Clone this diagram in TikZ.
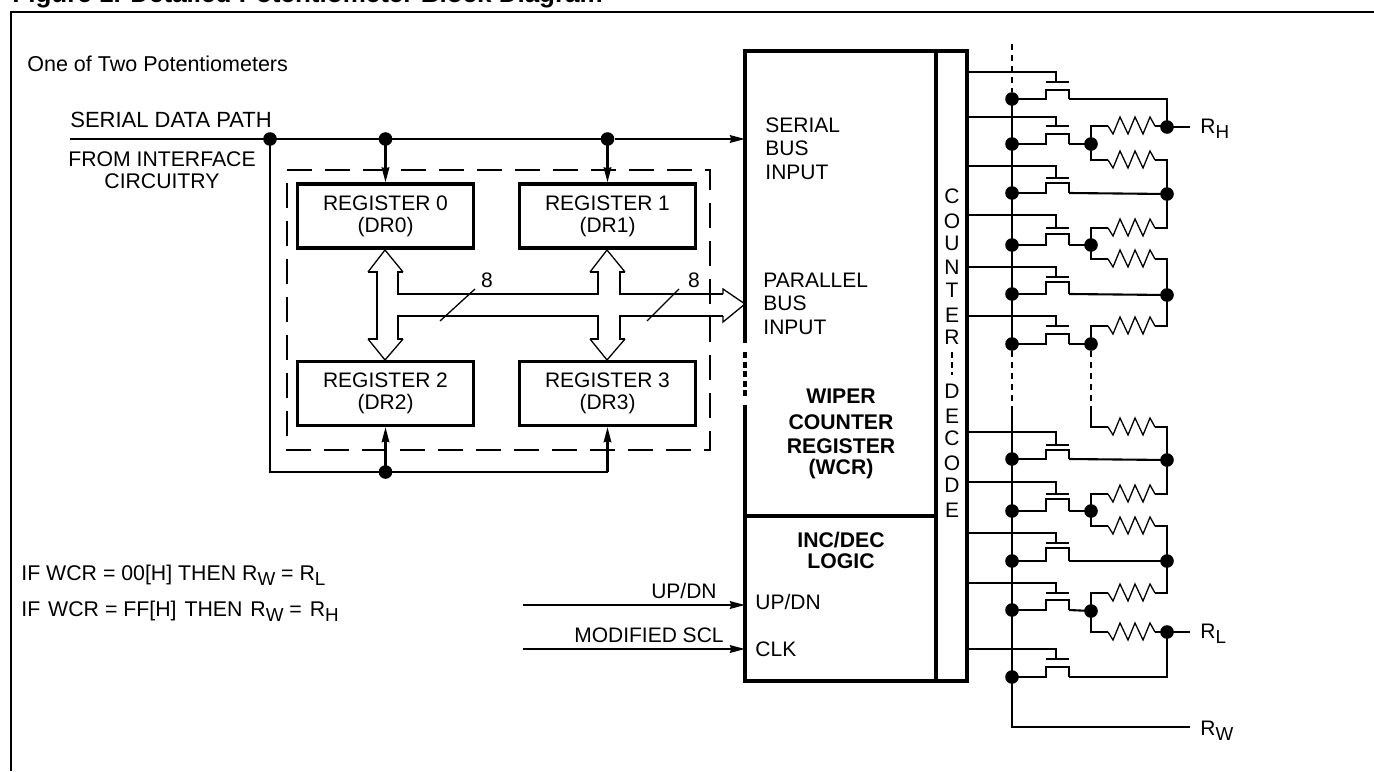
\documentclass[tikz,border=0pt]{standalone}
\usepackage{fontspec}
\setmainfont{Liberation Sans}
\usetikzlibrary{arrows.meta}
\tikzset{
  wire/.style={line width=1.05pt,line join=miter},
  heavy/.style={line width=1.7pt},
  thinline/.style={line width=0.65pt},
  dotnode/.style={circle,fill=black,inner sep=0pt,minimum size=6.8pt},
  regbox/.style={draw,line width=1.7pt,minimum width=88pt,minimum height=32pt,inner sep=0pt,align=center,font=\fontsize{10.5}{11}\selectfont},
  txt/.style={inner sep=0pt,anchor=base west,font=\fontsize{10.5}{11}\selectfont},
  txtc/.style={txt,anchor=base},
  bold/.style={txt,anchor=base,font=\fontsize{10.6}{11}\selectfont\bfseries},
  iftxt/.style={txt,font=\fontsize{10.65}{11}\selectfont},
  regarrow/.style={wire,-{Stealth[length=7.5pt,width=3.8pt,inset=0.6pt]}}
}
\newcommand{\zig}[1]{\draw[thinline] (1108,#1) -- (1113,#1+8) -- (1120,#1-9) -- (1128,#1+8)
  -- (1135,#1-9) -- (1143,#1+8) -- (1150,#1-9) -- (1155,#1);}
\newcommand{\rsub}[1]{R\raisebox{-2.6pt}{\fontsize{9.4}{9}\selectfont #1}}

\begin{document}
\begin{tikzpicture}[x=0.5pt,y=-0.5pt]
  \useasboundingbox (0,0) rectangle (1374,771);
  \node[txt,font=\fontsize{13}{13}\selectfont\bfseries] (title) at (12,3) {Figure 1. Detailed Potentiometer Block Diagram};
  \draw[wire] (1374,12) -- (11,12) -- (11,771);

  % left side texts
  \node[txt,font=\fontsize{10.75}{11}\selectfont] (onetwo) at (27,71) {One of Two Potentiometers};
  \node[txt,font=\fontsize{11}{11}\selectfont] (serialtxt) at (70,127) {SERIAL DATA PATH};
  \node[txtc,font=\fontsize{10.6}{11}\selectfont] (fromtxt) at (162,166) {FROM INTERFACE};
  \node[txtc,font=\fontsize{10.6}{11}\selectfont] (circtxt) at (162,188) {CIRCUITRY};
  \node[iftxt] (iflow) at (21,580) {IF WCR = 00[H] THEN \rsub{W} = \rsub{L}};
  \node[iftxt] (ifhigh) at (21,616) {IF\ \hspace{1pt}WCR = FF[H]\ \hspace{1pt}THEN\ \hspace{1pt}\rsub{W} =\ \hspace{1pt}\rsub{H}};

  % registers
  \node[regbox] (reg0) at (385.5,216) {REGISTER 0\\(DR0)};
  \node[regbox] (reg1) at (607.5,216) {REGISTER 1\\(DR1)};
  \node[regbox] (reg2) at (385.5,393.5) {REGISTER 2\\(DR2)};
  \node[regbox] (reg3) at (607.5,393.5) {REGISTER 3\\(DR3)};
  \draw[wire,dash pattern=on 12.5pt off 6.5pt] (287,170) -- (710,170) -- (710,450) -- (287,450) -- cycle;

  % serial path
  \coordinate (serialin) at (70,139);
  \coordinate (wcrin) at (745,139);
  \coordinate (bend0) at (270,472);
  \coordinate (bend1) at (607.5,472);
  \node[dotnode] (sd0) at (270,139) {};
  \node[dotnode] (sd1) at (385.5,139) {};
  \node[dotnode] (sd2) at (607.5,139) {};
  \node[dotnode] (sd3) at (385.5,472) {};
  \draw[wire] (serialin) -- (sd0.center) -- (sd1.center) -- (sd2.center);
  \draw[regarrow] (sd2) -- (wcrin);
  \draw[regarrow] (sd1.center) -- (reg0);
  \draw[regarrow] (sd2.center) -- (reg1);
  \draw[wire] (sd0.center) -- (bend0) -- (sd3.center);
  \draw[regarrow] (sd3.center) -- (reg2);
  \draw[wire] (sd3.center) -- (bend1);
  \draw[regarrow] (bend1) -- (reg3);

  % 8 bit bus
  \draw[wire] (403,272) -- (398,272) -- (398,294) -- (598,294) -- (598,272) -- (590,272);
  \draw[wire] (368,272) -- (377,272) -- (377,339) -- (368,339);
  \draw[wire] (403,339) -- (398,339) -- (398,316) -- (598,316) -- (598,339) -- (590,339);
  \draw[wire] (625,339) -- (620,339) -- (620,316) -- (723,316);
  \draw[wire] (625,272) -- (620,272) -- (620,294) -- (723,294);
  \draw[thinline] (368,272) -- (385,250) -- (403,272);
  \draw[thinline] (590,272) -- (607,250) -- (625,272);
  \draw[thinline] (368,339) -- (385,360) -- (403,339);
  \draw[thinline] (590,339) -- (607,360) -- (625,339);
  \draw[thinline] (723,316) -- (723,322) -- (745,304) -- (723,289) -- (723,294);
  \draw[thinline] (440,321) -- (475,289);
  \draw[thinline] (647,321) -- (679,289);
  \node[txtc] (bits0) at (487,287) {8};
  \node[txtc] (bits1) at (694,287) {8};

  % wiper counter register
  \draw[heavy] (745,343) -- (745,51) -- (967,51) -- (967,681) -- (745,681) -- (745,405);
  \draw[heavy,dash pattern=on 3pt off 1.8pt] (745,352) -- (745,398);
  \draw[heavy] (936,51) -- (936,681);
  \draw[heavy] (745,516) -- (936,516);
  \draw[wire,dash pattern=on 3pt off 2pt] (952,352) -- (952,375);
  \node[txt] (sertxt) at (765,132) {SERIAL};
  \node[txt] (bustxt) at (765,155) {BUS};
  \node[txt] (intxt) at (765,179) {INPUT};
  \node[txt] (partxt) at (763,287) {PARALLEL};
  \node[txt] (pbustxt) at (763,310) {BUS};
  \node[txt] (pintxt) at (763,334) {INPUT};
  \node[bold] (wctxt0) at (841,403) {WIPER};
  \node[bold] (wctxt1) at (841,429) {COUNTER};
  \node[bold] (wctxt2) at (841,453) {REGISTER};
  \node[bold] (wctxt3) at (841,474) {(WCR)};
  \node[bold] (inctxt) at (841,547) {INC/DEC};
  \node[bold] (logtxt) at (841,568) {LOGIC};
  \node[txt] (updntxt) at (755,609) {UP/DN};
  \node[txt] (clktxt) at (755,656) {CLK};
  \foreach \c/\yy/\n in {C/203/a,O/228/b,U/250/c,N/274/d,T/297/e,E/322/f,R/344/g,D/398/h,E/423/i,C/445/j,O/470/k,D/492/l,E/517/m}
    \node[txtc] (ctr\n) at (952,\yy) {\c};

  % up/dn and scl inputs
  \coordinate (updnin) at (523,605);
  \coordinate (updnend) at (745,605);
  \coordinate (sclin) at (523,649);
  \coordinate (sclend) at (745,649);
  \draw[regarrow] (updnin) -- (updnend);
  \draw[regarrow] (sclin) -- (sclend);
  \node[txt,anchor=base east] (updnlbl) at (717,598) {UP/DN};
  \node[txt,anchor=base east] (scllbl) at (724,642) {MODIFIED SCL};

  % switches
  \foreach \n/\gy/\by/\ty/\sy in {1/72/82/90/99,2/117/126/134/144,3/166/178/183/193,4/215/228/234/245,
    5/267/277/282/294,6/316/326/334/344,7/432/445/450/459,8/482/494/499/511,9/533/543/548/561,
    10/583/593/600/610,11/649/659/667/677}{
    \node[dotnode] (s\n) at (1012,\sy) {};
    \coordinate (f\n) at (1069,\sy);
    \draw[wire] (967,\gy) -- (1056,\gy) -- (1056,\by);
    \draw[wire] (1046,\by) -- (1069,\by);
    \draw[wire] (s\n.center) -- (1046,\sy) -- (1046,\ty) -- (1069,\ty) -- (f\n);
  }
  % wiper rail
  \coordinate (railtop) at (1012,44);
  \coordinate (railgap) at (1012,407);
  \coordinate (railend) at (1190,727);
  \draw[wire,dash pattern=on 3pt off 2.5pt] (railtop) -- (s1);
  \draw[wire,dash pattern=on 3pt off 2.5pt] (s6) -- (railgap);
  \draw[wire] (s1.center) -- (s6.center);
  \draw[wire] (railgap) -- (s11.center);
  \draw[wire] (s11.center) |- (railend);

  % resistor string
  \foreach \n/\yy in {m2/144,m4/245,m6/344,m8/511,m10/611}
    \node[dotnode] (\n) at (1091,\yy) {};
  \foreach \n/\yy in {rh/127,r3/194,r5/295,r7/460,r9/561,rl/632}
    \node[dotnode] (\n) at (1167,\yy) {};
  \foreach \a/\b/\yy in {m2/rh/126,m2/r3/160,m4/r3/228,m4/r5/259,m6/r5/326,m8/r7/494,m8/r9/526,m10/r9/593,m10/rl/632}{
    \draw[wire] (\a.center) |- (1108,\yy);
    \zig{\yy}
    \draw[wire] (1155,\yy) -| (\b.center);
  }
  \coordinate (stringgap) at (1091,408);
  \draw[wire,dash pattern=on 3pt off 2.5pt] (m6) -- (stringgap);
  \draw[wire] (stringgap) |- (1108,427);
  \zig{427}
  \draw[wire] (1155,427) -| (r7.center);
  \draw[wire] (f1) -| (rh.center);
  \draw[wire] (f3) -- (r3.center);
  \draw[wire] (f5) -- (r5.center);
  \draw[wire] (f7) -- (r7.center);
  \draw[wire] (f9) -- (r9.center);
  \draw[wire] (f11) -| (rl.center);
  \foreach \n/\m in {2/2,4/4,6/6,8/8,10/10}
    \draw[wire] (f\n) -- (m\m.center);

  % end terminals
  \coordinate (rhend) at (1190,127);
  \coordinate (rlend) at (1190,632);
  \draw[wire] (rh.center) -- (rhend);
  \draw[wire] (rl.center) -- (rlend);
  \node[txt] (rhtxt) at (1200,133) {\rsub{H}};
  \node[txt] (rltxt) at (1200,638) {\rsub{L}};
  \node[txt] (rwtxt) at (1200,735) {\rsub{W}};
\end{tikzpicture}
\end{document}
